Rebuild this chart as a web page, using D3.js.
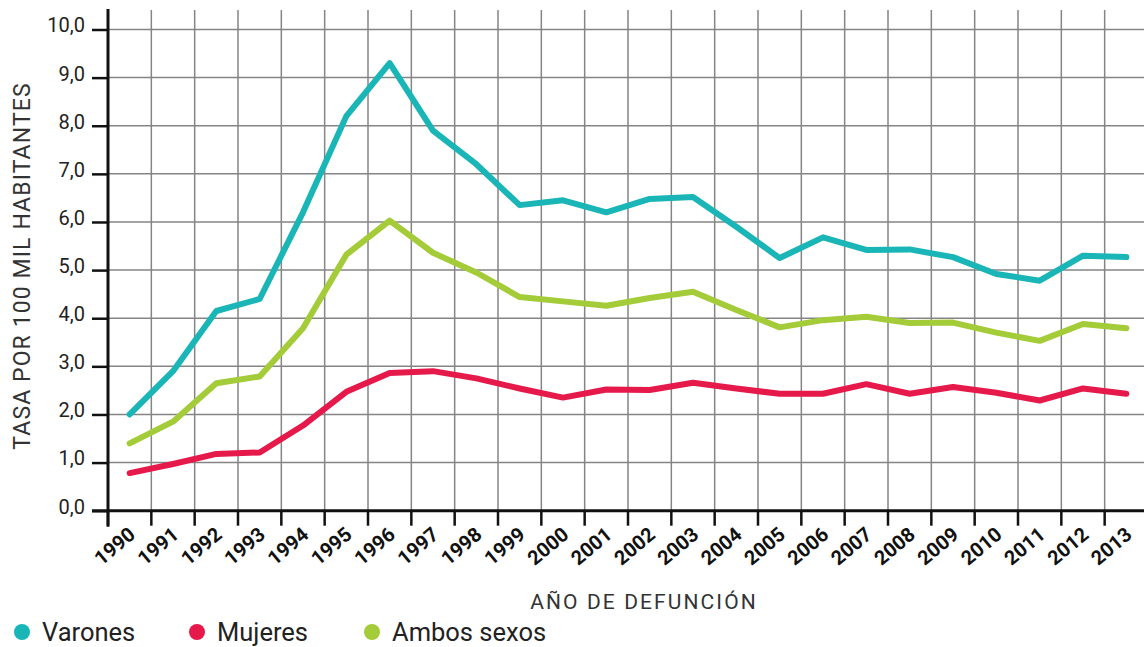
<!DOCTYPE html>
<html>
<head>
<meta charset="utf-8">
<script src="https://cdn.jsdelivr.net/npm/d3@7"></script>
<style>
  body { margin: 0; background: #fff; }
  svg { display: block; font-family: Roboto, "Open Sans", sans-serif; }
</style>
</head>
<body>
<svg id="chart" width="1144" height="647"></svg>
<script>
var years = [1990, 1991, 1992, 1993, 1994, 1995, 1996, 1997, 1998, 1999, 2000, 2001,
  2002, 2003, 2004, 2005, 2006, 2007, 2008, 2009, 2010, 2011, 2012, 2013];

var varones = [2.0, 2.9, 4.15, 4.4, 6.2, 8.2, 9.3, 7.9, 7.2, 6.35, 6.45, 6.2,
  6.48, 6.52, 5.9, 5.25, 5.68, 5.42, 5.43, 5.27, 4.92, 4.78, 5.3, 5.27];
var mujeres = [0.78, 0.97, 1.18, 1.21, 1.77, 2.47, 2.86, 2.9, 2.75, 2.54, 2.35, 2.52,
  2.51, 2.66, 2.54, 2.43, 2.43, 2.63, 2.43, 2.57, 2.45, 2.29, 2.54, 2.43];
var ambos = [1.4, 1.85, 2.65, 2.79, 3.79, 5.32, 6.03, 5.36, 4.95, 4.44, 4.35, 4.26,
  4.42, 4.55, 4.17, 3.81, 3.96, 4.03, 3.9, 3.91, 3.7, 3.53, 3.88, 3.79];

var seriesNames = ["Varones", "Mujeres", "Ambos sexos"];
var seriesColors = ["#19b5b7", "#e6194b", "#a4cb38"];
var yTicks = [0, 1, 2, 3, 4, 5, 6, 7, 8, 9, 10];

var svg = d3.select("#chart"),
  margin = {top: 29.5, left: 108},
  plotRight = 1148,
  plotBottom = 510.7;

var x = d3.scaleBand().domain(years).range([margin.left, plotRight]);
var y = d3.scaleLinear().domain([0, 10]).range([plotBottom, margin.top]);
var fmt = function(d) { return d3.format(".1f")(d).replace(".", ","); };

// grid
var grid = svg.append("g").attr("stroke", "#858585").attr("stroke-width", 1.5);
grid.selectAll(".hgrid")
  .data(yTicks.slice(1))
  .enter().append("line")
    .attr("x1", margin.left).attr("x2", 1144)
    .attr("y1", function(d) { return y(d); })
    .attr("y2", function(d) { return y(d); });
grid.selectAll(".vgrid")
  .data(years.slice(1))
  .enter().append("line")
    .attr("x1", function(d) { return x(d); })
    .attr("x2", function(d) { return x(d); })
    .attr("y1", 10).attr("y2", plotBottom);

// y axis
var yAxis = svg.append("g")
  .attr("transform", "translate(" + margin.left + ",0)")
  .call(d3.axisLeft(y).tickValues(yTicks).tickFormat(fmt).tickSize(16).tickSizeOuter(0).tickPadding(7));
yAxis.select(".domain").remove();
yAxis.selectAll(".tick line").attr("stroke", "#111").attr("stroke-width", 2.5);
yAxis.selectAll(".tick text")
  .attr("font-size", 20).attr("fill", "#222").attr("font-family", "Roboto")
  .attr("dy", "0.12em");

// x axis labels
var xAxis = svg.append("g")
  .attr("transform", "translate(0," + plotBottom + ")")
  .call(d3.axisBottom(x).tickSize(0).tickSizeOuter(0));
xAxis.select(".domain").remove();
xAxis.selectAll(".tick text")
  .attr("font-size", 20).attr("font-weight", 700).attr("fill", "#111")
  .attr("font-family", "Roboto")
  .attr("text-anchor", "end")
  .attr("y", 0).attr("dy", 0)
  .attr("transform", "translate(7,26) rotate(-40)");

// x tick marks at band edges
svg.append("g").selectAll("line")
  .data(years)
  .enter().append("line")
    .attr("x1", function(d) { return x(d); })
    .attr("x2", function(d) { return x(d); })
    .attr("y1", plotBottom).attr("y2", plotBottom + 15)
    .attr("stroke", "#111").attr("stroke-width", 2.5);

// axis lines
svg.append("line")
  .attr("x1", 92).attr("x2", 1144).attr("y1", plotBottom).attr("y2", plotBottom)
  .attr("stroke", "#111").attr("stroke-width", 3);
svg.append("line")
  .attr("x1", margin.left).attr("x2", margin.left).attr("y1", 9).attr("y2", plotBottom + 16)
  .attr("stroke", "#111").attr("stroke-width", 3);

// lines
var line = d3.line()
  .x(function(d, i) { return x(years[i]) + x.bandwidth() / 2; })
  .y(function(d) { return y(d); });

[varones, mujeres, ambos].forEach(function(vals, i) {
  svg.append("path")
    .datum(vals)
    .attr("fill", "none")
    .attr("stroke", seriesColors[i])
    .attr("stroke-width", 6)
    .attr("stroke-linejoin", "round")
    .attr("stroke-linecap", "round")
    .attr("d", line);
});

// axis titles
svg.append("text")
  .attr("transform", "translate(30,266) rotate(-90)")
  .attr("text-anchor", "middle")
  .attr("font-size", 23).attr("letter-spacing", 1.1).attr("fill", "#333")
  .text("TASA POR 100 MIL HABITANTES");

svg.append("text")
  .attr("x", 644).attr("y", 609)
  .attr("text-anchor", "middle")
  .attr("font-size", 21).attr("letter-spacing", 2.1).attr("fill", "#333")
  .text("AÑO DE DEFUNCIÓN");

// legend
var legendX = [22, 197, 372];
var legend = svg.append("g").selectAll("g")
  .data(seriesNames)
  .enter().append("g")
    .attr("transform", function(d, i) { return "translate(" + legendX[i] + ",632)"; });
legend.append("circle")
  .attr("r", 8)
  .attr("fill", function(d, i) { return seriesColors[i]; });
legend.append("text")
  .attr("x", 20).attr("y", 9)
  .attr("font-size", 25.5).attr("fill", "#222")
  .text(function(d) { return d; });
</script>
</body>
</html>
